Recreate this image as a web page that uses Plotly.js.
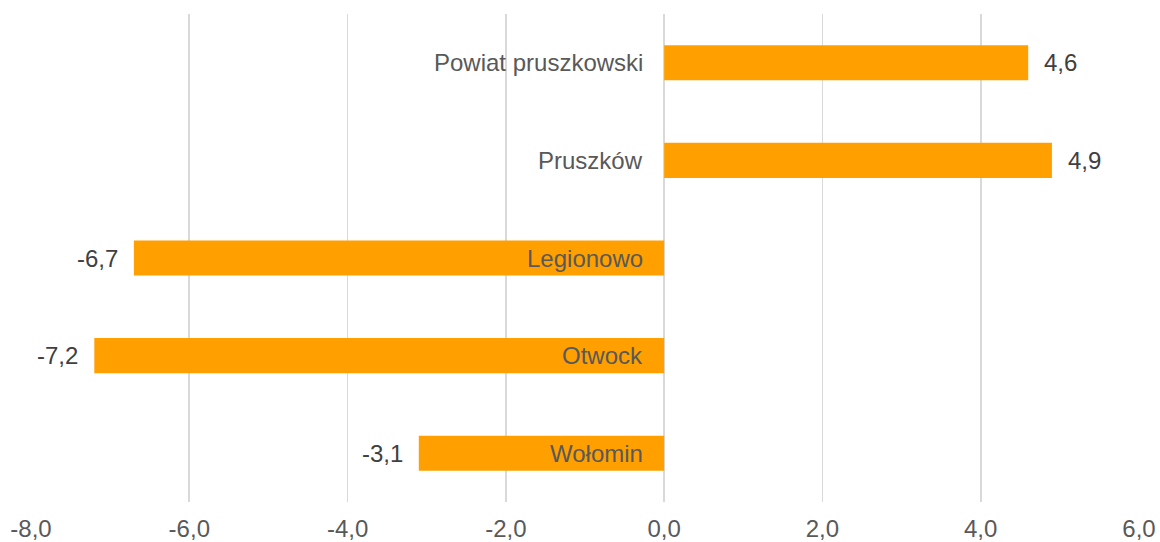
<!DOCTYPE html>
<html><head><meta charset="utf-8">
<script src="https://cdn.plot.ly/plotly-3.0.1.min.js"></script>
<style>html,body{margin:0;padding:0;background:#fff}#chart{width:1160px;height:542px}</style>
</head><body><div id="chart"></div>
<script>
const categories = ["Powiat pruszkowski", "Pruszków", "Legionowo", "Otwock", "Wołomin"];
const values = [4.6, 4.9, -6.7, -7.2, -3.1];
const tickValues = [-8, -6, -4, -2, 0, 2, 4, 6];
const tickLabels = ["-8,0", "-6,0", "-4,0", "-2,0", "0,0", "2,0", "4,0", "6,0"];

const FONT = "'Liberation Sans', Arial, sans-serif";
const annotations = [];
categories.forEach((c, i) => {
  annotations.push({x: 0, y: c, xref: 'x', yref: 'y', text: c, showarrow: false,
    xanchor: 'right', xshift: -19, font: {family: FONT, size: 24, color: '#595959'}});
  const v = values[i];
  annotations.push({x: v, y: c, xref: 'x', yref: 'y', text: v.toFixed(1).replace('.', ','), showarrow: false,
    xanchor: v >= 0 ? 'left' : 'right', xshift: v >= 0 ? 14 : -14, font: {family: FONT, size: 24, color: '#404040'}});
});

Plotly.newPlot('chart', [{
  type: 'bar', orientation: 'h', y: categories, x: values,
  marker: {color: '#FFA000'}, hoverinfo: 'skip'
}], {
  width: 1160, height: 542,
  margin: {l: 31, r: 21, t: 14, b: 40},
  paper_bgcolor: '#fff', plot_bgcolor: '#fff',
  showlegend: false, bargap: 0.64, separators: ',.',
  xaxis: {range: [-8, 6], tickvals: tickValues, ticktext: tickLabels,
    showgrid: true, gridcolor: '#d9d9d9', gridwidth: 1.6,
    zeroline: true, zerolinecolor: '#d9d9d9', zerolinewidth: 1.6,
    showline: false, ticks: '', ticklabelstandoff: 10,
    tickfont: {family: FONT, size: 24, color: '#595959'}},
  yaxis: {type: 'category', autorange: 'reversed', showticklabels: false,
    showgrid: false, zeroline: false, showline: false, ticks: ''},
  annotations: annotations
}, {staticPlot: true});
</script></body></html>
